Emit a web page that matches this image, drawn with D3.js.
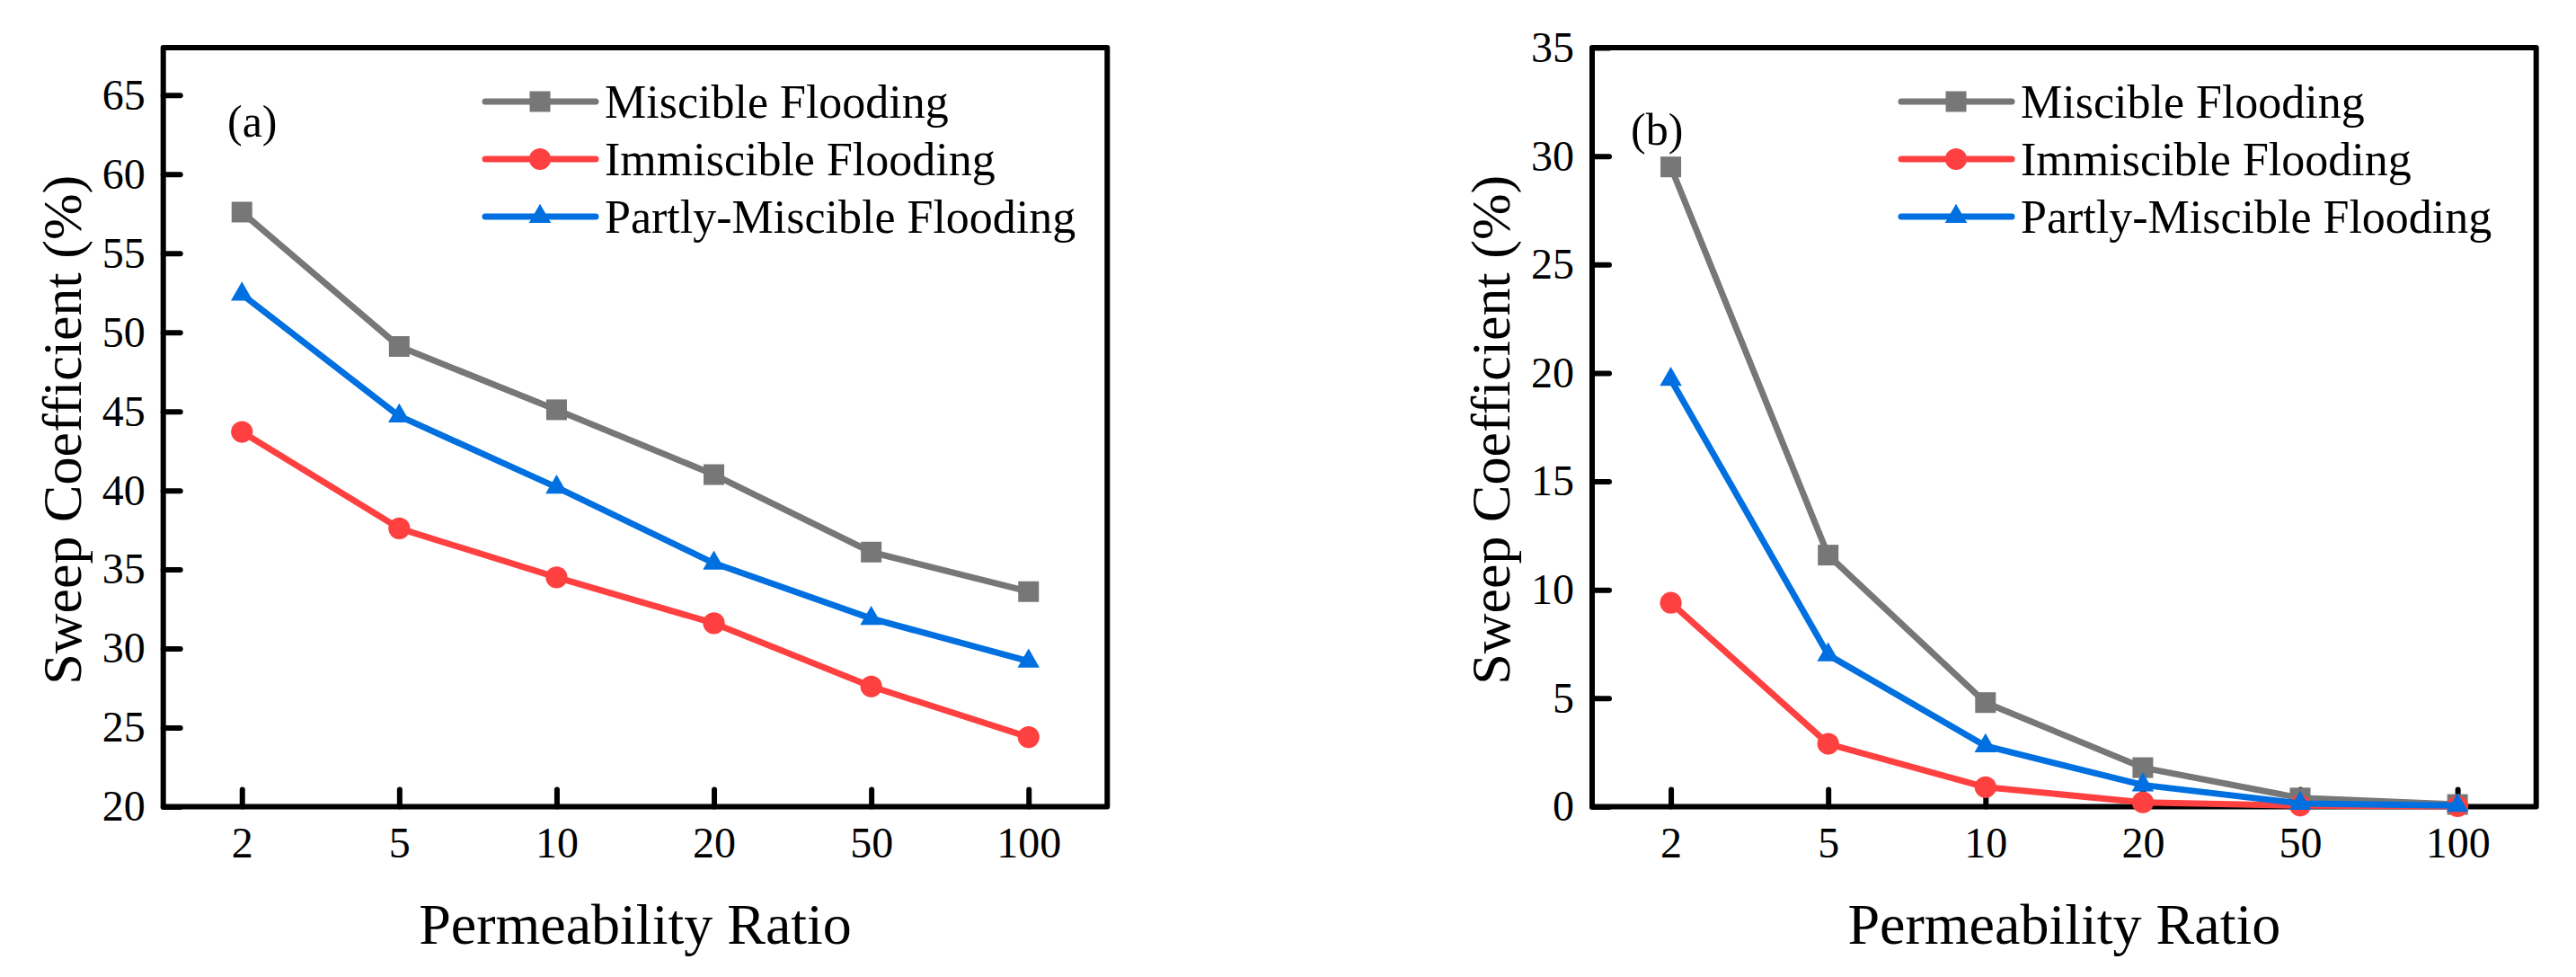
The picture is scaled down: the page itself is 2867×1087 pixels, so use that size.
<!DOCTYPE html>
<html>
<head>
<meta charset="utf-8">
<script src="https://cdn.jsdelivr.net/npm/d3@7"></script>
<style>
  body { margin: 0; background: #fff; }
  text { font-family: "Liberation Serif", "Times New Roman", serif; fill: #000; }
</style>
</head>
<body>
<svg width="2867" height="1087"></svg>
<script>
// permeability ratios on the x axis
const ratios = ["2", "5", "10", "20", "50", "100"];

// panel (a) values, %
const aMiscible   = [57.6, 49.1, 45.1, 41.0, 36.1, 33.6];
const aImmiscible = [43.7, 37.6, 34.5, 31.6, 27.6, 24.4];
const aPartly     = [52.4, 44.7, 40.2, 35.4, 31.9, 29.2];

// panel (b) values, %
const bMiscible   = [29.5, 11.6, 4.8, 1.8, 0.4, 0.1];
const bImmiscible = [9.4, 2.9, 0.9, 0.2, 0.05, 0.02];
const bPartly     = [19.7, 7.0, 2.8, 1.0, 0.15, 0.05];

const aTicks = [20, 25, 30, 35, 40, 45, 50, 55, 60, 65];
const bTicks = [0, 5, 10, 15, 20, 25, 30, 35];

const seriesNames = ["Miscible Flooding", "Immiscible Flooding", "Partly-Miscible Flooding"];
const seriesColors = ["#777777", "#FF4040", "#0070E0"];
const seriesShapes = [d3.symbolSquare, d3.symbolCircle, d3.symbolTriangle];
const shapeSizes = [529, 460, 260];

const svg = d3.select("svg");

function drawPanel(opt) {
    const left = opt.left, right = opt.right, top = 53, bottom = 897.5;

    const x = d3.scalePoint()
        .domain(ratios)
        .range([left, right])
        .padding(0.5);

    const y = d3.scaleLinear()
        .domain(opt.yDomain)
        .range([bottom, top]);

    const g = svg.append("g");

    // x axis, ticks pointing inward
    const xAxis = g.append("g")
        .attr("transform", `translate(0,${bottom})`)
        .call(d3.axisBottom(x).tickSize(-19).tickSizeOuter(0).tickPadding(22));
    xAxis.attr("font-family", null);
    xAxis.select(".domain").remove();
    xAxis.selectAll("line").attr("stroke", "#000").attr("stroke-width", 6).attr("stroke-linecap", "round");
    xAxis.selectAll("text").attr("font-size", "48px").attr("font-family", "Liberation Serif");

    // y axis
    const yAxis = g.append("g")
        .attr("transform", `translate(${left},0)`)
        .call(d3.axisLeft(y).tickValues(opt.yTicks).tickSize(-19).tickSizeOuter(0).tickPadding(20));
    yAxis.attr("font-family", null);
    yAxis.select(".domain").remove();
    yAxis.selectAll("line").attr("stroke", "#000").attr("stroke-width", 6).attr("stroke-linecap", "round");
    yAxis.selectAll("text").attr("font-size", "48px").attr("font-family", "Liberation Serif");

    // frame
    g.append("rect")
        .attr("x", left)
        .attr("y", top)
        .attr("width", right - left)
        .attr("height", bottom - top)
        .attr("fill", "none")
        .attr("stroke", "#000")
        .attr("stroke-width", 6)
        .attr("stroke-linejoin", "round");

    // series
    const line = d3.line()
        .x((d, i) => x(ratios[i]))
        .y(d => y(d));

    opt.series.forEach((vals, k) => {
        g.append("path")
            .datum(vals)
            .attr("d", line)
            .attr("fill", "none")
            .attr("stroke", seriesColors[k])
            .attr("stroke-width", 7)
            .attr("stroke-linejoin", "round");

        g.selectAll(null)
            .data(vals)
            .join("path")
            .attr("transform", (d, i) => `translate(${x(ratios[i])},${y(d)})`)
            .attr("d", d3.symbol().type(seriesShapes[k]).size(shapeSizes[k]))
            .attr("fill", seriesColors[k]);
    });

    // panel label
    g.append("text")
        .attr("x", opt.tagX)
        .attr("y", opt.tagY)
        .attr("font-size", "50px")
        .text(opt.tag);

    // legend
    const legend = g.append("g")
        .attr("transform", `translate(${opt.legendX},113)`);
    seriesNames.forEach((name, k) => {
        const row = legend.append("g").attr("transform", `translate(0,${k * 64})`);
        row.append("line")
            .attr("x1", 0).attr("x2", 123)
            .attr("stroke", seriesColors[k])
            .attr("stroke-width", 7)
            .attr("stroke-linecap", "round");
        row.append("path")
            .attr("transform", "translate(61,0)")
            .attr("d", d3.symbol().type(seriesShapes[k]).size(shapeSizes[k]))
            .attr("fill", seriesColors[k]);
        row.append("text")
            .attr("x", 133)
            .attr("y", 18)
            .attr("font-size", "52px")
            .text(name);
    });

    // axis titles
    g.append("text")
        .attr("x", (left + right) / 2)
        .attr("y", 1050)
        .attr("text-anchor", "middle")
        .attr("font-size", "64px")
        .text("Permeability Ratio");

    g.append("text")
        .attr("transform", `translate(${left - 92},${(top + bottom) / 2 + 3}) rotate(-90)`)
        .attr("text-anchor", "middle")
        .attr("font-size", "62px")
        .text("Sweep Coefficient (%)");
}

drawPanel({
    left: 181.7, right: 1232.3,
    yDomain: [20, 68], yTicks: aTicks,
    series: [aMiscible, aImmiscible, aPartly],
    tag: "(a)", tagX: 253, tagY: 152,
    legendX: 540
});

drawPanel({
    left: 1772, right: 2822.7,
    yDomain: [0, 35], yTicks: bTicks,
    series: [bMiscible, bImmiscible, bPartly],
    tag: "(b)", tagX: 1815, tagY: 161,
    legendX: 2116
});
</script>
</body>
</html>
